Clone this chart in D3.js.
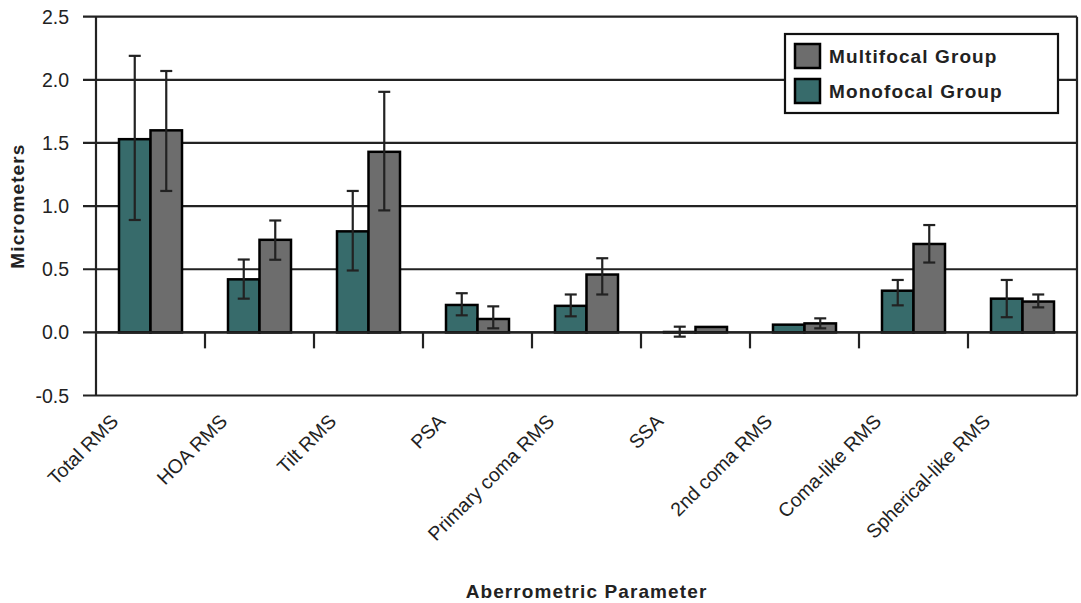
<!DOCTYPE html>
<html><head><meta charset="utf-8">
<script src="https://cdn.jsdelivr.net/npm/d3@7"></script>
<style>body{margin:0;background:#fff}svg{display:block}text{font-family:"Liberation Sans",Arial,sans-serif}</style>
</head><body>
<script>
const categories = ["Total RMS","HOA RMS","Tilt RMS","PSA","Primary coma RMS","SSA","2nd coma RMS","Coma-like RMS","Spherical-like RMS"];
const series = ["Monofocal Group","Multifocal Group"];
const monoValues = [1.53,0.42,0.80,0.217,0.21,0.003,0.061,0.33,0.267];
const monoHigh   = [2.19,0.577,1.12,0.31,0.30,0.045,null,0.415,0.415];
const monoLow    = [0.89,0.267,0.49,0.135,0.127,-0.034,null,0.214,0.12];
const multiValues = [1.60,0.733,1.43,0.106,0.458,0.043,0.071,0.70,0.244];
const multiHigh   = [2.07,0.886,1.905,0.206,0.587,null,0.111,0.85,0.30];
const multiLow    = [1.12,0.575,0.966,0.032,0.30,null,0.032,0.553,0.198];
const yTicks = [-0.5,0,0.5,1.0,1.5,2.0,2.5];
const yTickLabels = ["-0.5","0.0","0.5","1.0","1.5","2.0","2.5"];

const W=1081,H=603;
const L=96,R=1077,T=16.7,B=395.5;
const colors={"Monofocal Group":"#376b6b","Multifocal Group":"#6d6d6d"};
const svg=d3.select("body").append("svg").attr("width",W).attr("height",H);

const y=d3.scaleLinear().domain([-0.5,2.5]).range([B,T]);
const x=d3.scaleBand().domain(categories).range([L,R]).padding(0);
const bw=x.bandwidth();
const x1=d3.scaleBand().domain(series).range([bw/2-31.5,bw/2+31.5]).padding(0);

// gridlines
svg.append("g").selectAll("line").data(yTicks).join("line")
  .attr("x1",L-13).attr("x2",R).attr("y1",d=>y(d)).attr("y2",d=>y(d))
  .attr("stroke","#222").attr("stroke-width",2.2);
// frame
svg.append("line").attr("x1",L).attr("x2",L).attr("y1",T).attr("y2",B).attr("stroke","#222").attr("stroke-width",2.2);
svg.append("line").attr("x1",R).attr("x2",R).attr("y1",T).attr("y2",B).attr("stroke","#222").attr("stroke-width",2.2);

// y tick labels
svg.append("g").selectAll("text").data(yTicks).join("text")
  .attr("x",69).attr("y",d=>y(d)+7).attr("text-anchor","end")
  .attr("font-size",19.5).attr("fill","#222").text((d,i)=>yTickLabels[i]);

// category ticks below zero line
svg.append("g").selectAll("line").data(categories.slice(1)).join("line")
  .attr("x1",d=>x(d)).attr("x2",d=>x(d)).attr("y1",y(0)).attr("y2",y(0)+16)
  .attr("stroke","#222").attr("stroke-width",2.2);

const rows=categories.map((c,i)=>({c,vals:[
  {s:"Monofocal Group",v:monoValues[i],hi:monoHigh[i],lo:monoLow[i]},
  {s:"Multifocal Group",v:multiValues[i],hi:multiHigh[i],lo:multiLow[i]}]}));

const g=svg.append("g").selectAll("g").data(rows).join("g").attr("transform",d=>`translate(${x(d.c)},0)`);
g.selectAll("rect").data(d=>d.vals).join("rect")
  .attr("x",d=>x1(d.s)).attr("width",x1.bandwidth())
  .attr("y",d=>y(Math.max(0,d.v))).attr("height",d=>Math.abs(y(d.v)-y(0)))
  .attr("fill",d=>colors[d.s]).attr("stroke","#000").attr("stroke-width",2.5);

const eg=g.selectAll("g.err").data(d=>d.vals.filter(v=>v.hi!=null)).join("g").attr("class","err");
eg.append("line").attr("x1",d=>x1(d.s)+x1.bandwidth()/2).attr("x2",d=>x1(d.s)+x1.bandwidth()/2)
  .attr("y1",d=>y(d.hi)).attr("y2",d=>y(d.lo)).attr("stroke","#222").attr("stroke-width",2.2);
[ "hi","lo" ].forEach(k=>{
  eg.append("line").attr("x1",d=>x1(d.s)+x1.bandwidth()/2-6).attr("x2",d=>x1(d.s)+x1.bandwidth()/2+6)
    .attr("y1",d=>y(d[k])).attr("y2",d=>y(d[k])).attr("stroke","#222").attr("stroke-width",2.2);
});

// redraw zero line on top
svg.append("line").attr("x1",L).attr("x2",R).attr("y1",y(0)).attr("y2",y(0)).attr("stroke","#222").attr("stroke-width",2.2);

// x labels
svg.append("g").selectAll("text").data(categories).join("text")
  .attr("text-anchor","end").attr("font-size",19.5).attr("fill","#222")
  .attr("transform",d=>`translate(${x(d)+bw/2-31},${B+27}) rotate(-45)`)
  .text(d=>d);

// axis titles
svg.append("text").attr("transform",`translate(24,${(T+B)/2}) rotate(-90)`)
  .attr("text-anchor","middle").attr("font-size",19).attr("letter-spacing",1.1).attr("font-weight","bold").attr("fill","#222").text("Micrometers");
svg.append("text").attr("x",(L+R)/2).attr("y",598).attr("text-anchor","middle")
  .attr("font-size",19).attr("letter-spacing",1.1).attr("font-weight","bold").attr("fill","#222").text("Aberrometric Parameter");

// legend
const lg=svg.append("g");
lg.append("rect").attr("x",785).attr("y",34).attr("width",273).attr("height",79)
  .attr("fill","#fff").attr("stroke","#111").attr("stroke-width",2.2);
const legendItems=["Multifocal Group","Monofocal Group"];
legendItems.forEach((s,i)=>{
  lg.append("rect").attr("x",795).attr("y",44+i*35).attr("width",25).attr("height",24)
    .attr("fill",colors[s]).attr("stroke","#000").attr("stroke-width",2.5);
  lg.append("text").attr("x",829).attr("y",63+i*35).attr("font-size",19).attr("letter-spacing",1.1).attr("font-weight","bold")
    .attr("fill","#222").text(s);
});
</script>
</body></html>
